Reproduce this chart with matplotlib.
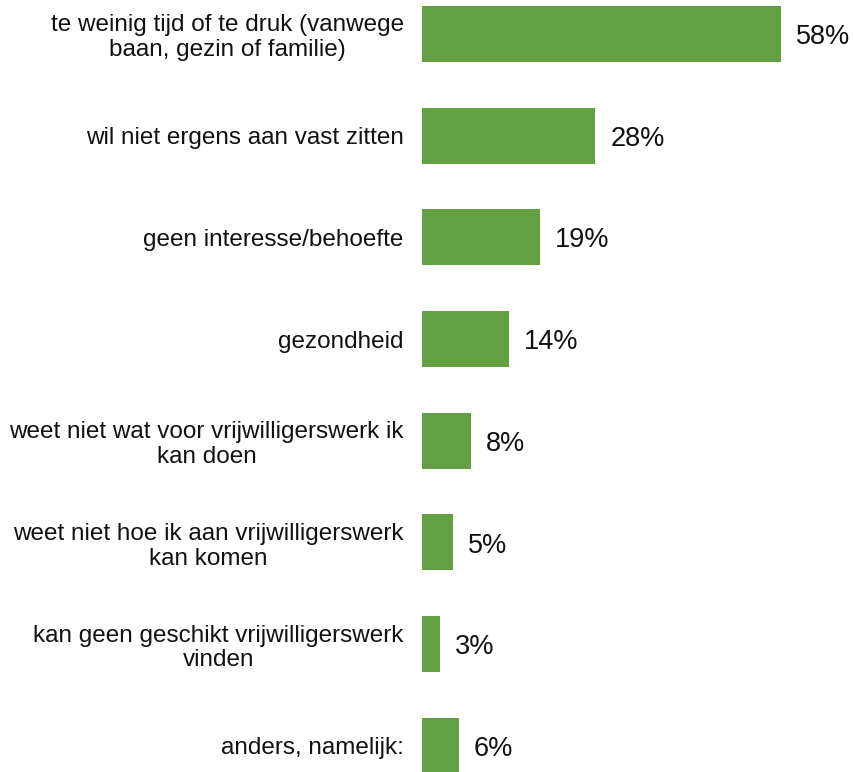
import matplotlib.pyplot as plt

plt.rcParams['font.family'] = ['Liberation Sans', 'DejaVu Sans']

# -----------------------
# Data
# -----------------------

categories = [
    "te weinig tijd of te druk (vanwege\nbaan, gezin of familie)",
    "wil niet ergens aan vast zitten",
    "geen interesse/behoefte",
    "gezondheid",
    "weet niet wat voor vrijwilligerswerk ik\nkan doen",
    "weet niet hoe ik aan vrijwilligerswerk\nkan komen",
    "kan geen geschikt vrijwilligerswerk\nvinden",
    "anders, namelijk:",
]

values = [58, 28, 19, 14, 8, 5, 3, 6]

fig = plt.figure(figsize=(8.54, 7.72), dpi=100)
ax = fig.add_axes([0.494, 0.0, 0.506, 1.0])

pos = list(range(len(values)))
ax.barh(pos, values, height=0.55, color="#63a043")

for p, v in zip(pos, values):
    ax.text(v + 2.4, p + 0.03, f"{v}%", va="center", ha="left",
            fontsize=19.5, color="#111111")

ax.set_yticks(pos)
ax.set_yticklabels(categories, fontsize=17.5, color="#111111",
                   multialignment="center", linespacing=1.15)
ax.tick_params(axis="y", length=0, pad=13)
ax.set_xticks([])
ax.set_xlim(0, 69.7)
ax.set_ylim(7.257, -0.334)

for s in ax.spines.values():
    s.set_visible(False)

fig.savefig("out.png", dpi=100)
plt.close()
